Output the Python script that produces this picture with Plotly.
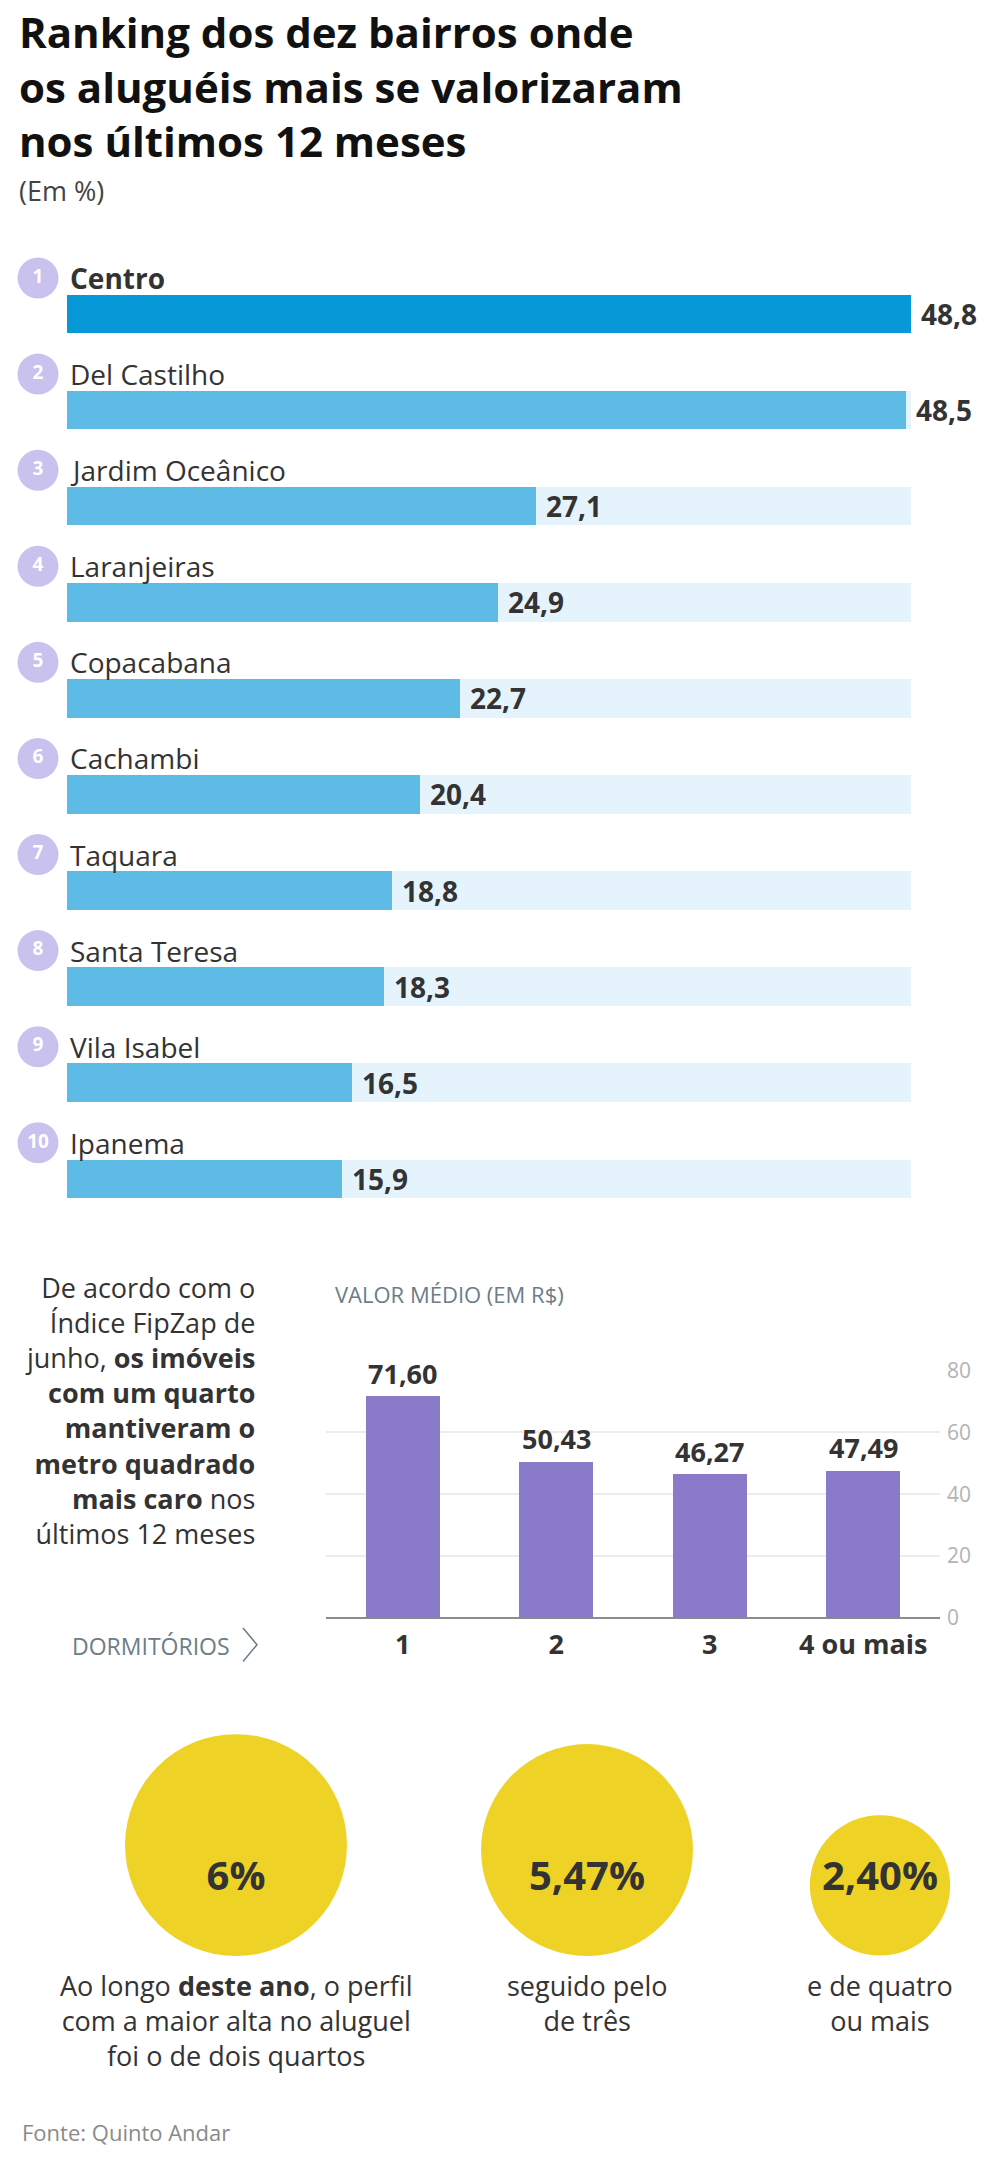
import math
import plotly.graph_objects as go

# ---------------- data ----------------
BAIRROS = ["Centro", "Del Castilho", "Jardim Oceânico", "Laranjeiras", "Copacabana",
           "Cachambi", "Taquara", "Santa Teresa", "Vila Isabel", "Ipanema"]
VALORIZACAO = [48.8, 48.5, 27.1, 24.9, 22.7, 20.4, 18.8, 18.3, 16.5, 15.9]
RANK = [str(i + 1) for i in range(len(BAIRROS))]

DORMITORIOS = ["1", "2", "3", "4 ou mais"]
VALOR_MEDIO = [71.60, 50.43, 46.27, 47.49]
Y_TICKS = [0, 20, 40, 60, 80]

ALTA_VALORES = [6.0, 5.47, 2.40]
ALTA_LABELS = ["6%", "5,47%", "2,40%"]
ALTA_CAPTIONS = [
    ["Ao longo <b>deste ano</b>, o perfil", "com a maior alta no aluguel", "foi o de dois quartos"],
    ["seguido pelo", "de três"],
    ["e de quatro", "ou mais"],
]

TITLE_LINES = ["Ranking dos dez bairros onde", "os aluguéis mais se valorizaram",
               "nos últimos 12 meses"]
LEFT_TEXT = ["De acordo com o", "Índice FipZap de", "junho, <b>os imóveis</b>",
             "<b>com um quarto</b>", "<b>mantiveram o</b>", "<b>metro quadrado</b>",
             "<b>mais caro</b> nos", "últimos 12 meses"]

# ---------------- style / layout ----------------
W, H = 1000, 2168
FONT = "Open Sans"
DARK = "#333333"
GRAYBLUE = "#6b7d89"


def px(x):
    return x / W


def py(y):
    return 1 - y / H


def br(v, nd=1):
    return f"{v:.{nd}f}".replace(".", ",")


fig = go.Figure()
annotations = []

# ---- title ----
annotations.append(dict(text="<b>" + "<br>".join(TITLE_LINES) + "</b>", x=px(17), y=py(72),
                        xref="paper", yref="paper", xanchor="left", yanchor="middle",
                        align="left", showarrow=False,
                        font=dict(family=FONT, size=42, color="#111111")))
annotations.append(dict(text="(Em %)", x=px(17), y=py(178), xref="paper", yref="paper",
                        xanchor="left", yanchor="middle", showarrow=False,
                        font=dict(family=FONT, size=27, color="#444444")))

# ---- ranking bars ----
n = len(BAIRROS)
idx = list(range(n))
vmax = max(VALORIZACAO)
row_top, row_bottom = 254.3, 1227.7
bar_colors = ["#0798d8" if i == 0 else "#5dbbe6" for i in idx]

fig.add_trace(go.Bar(x=[vmax] * n, y=idx, orientation="h", width=0.40,
                     marker=dict(color="#e5f4fc", line=dict(width=0)),
                     xaxis="x", yaxis="y", hoverinfo="skip", showlegend=False))
fig.add_trace(go.Bar(x=VALORIZACAO, y=idx, orientation="h", width=0.40,
                     marker=dict(color=bar_colors, line=dict(width=0)),
                     xaxis="x", yaxis="y", showlegend=False))

LABEL_SHIFT = 0.375  # rank circles / names sit above each bar (in row units)
fig.add_trace(go.Scatter(x=[0.5] * n, y=idx, mode="markers+text", text=RANK,
                         textposition="middle center",
                         textfont=dict(family=FONT, size=19, color="white", weight="bold"),
                         marker=dict(size=41, color="#c9c1ee", opacity=1, line=dict(width=0)),
                         xaxis="x4", yaxis="y4", showlegend=False, cliponaxis=False,
                         hoverinfo="skip"))

for i, (name, v) in enumerate(zip(BAIRROS, VALORIZACAO)):
    label = f"<b>{name}</b>" if i == 0 else name
    annotations.append(dict(text=label, x=0, y=i, xref="x", yref="y4", xanchor="left",
                            yanchor="middle", xshift=1, showarrow=False,
                            font=dict(family=FONT, size=28, color=DARK)))
    annotations.append(dict(text=f"<b>{br(v)}</b>", x=v, y=i, xref="x", yref="y",
                            xanchor="left", yanchor="middle", xshift=8, showarrow=False,
                            font=dict(family=FONT, size=28, color=DARK)))

# ---- average value bar chart ----
fig.add_trace(go.Bar(x=DORMITORIOS, y=VALOR_MEDIO, width=0.48,
                     marker=dict(color="#8a7aca", line=dict(width=0)),
                     xaxis="x2", yaxis="y2", showlegend=False))
for k, v in enumerate(VALOR_MEDIO):
    annotations.append(dict(text=f"<b>{br(v, 2)}</b>", x=k, y=v, xref="x2", yref="y2",
                            xanchor="center", yanchor="middle", yshift=23, showarrow=False,
                            font=dict(family=FONT, size=27, color=DARK)))

annotations.append(dict(text="<br>".join(LEFT_TEXT), x=px(257), y=py(1296 + 33.7 * 3.5),
                        xref="paper", yref="paper", xanchor="right", yanchor="middle",
                        align="right", showarrow=False,
                        font=dict(family=FONT, size=27, color=DARK)))
annotations.append(dict(text="VALOR MÉDIO (EM R$)", x=px(333), y=py(1296), xref="paper",
                        yref="paper", xanchor="left", yanchor="middle", showarrow=False,
                        font=dict(family=FONT, size=22, color=GRAYBLUE)))
annotations.append(dict(text="DORMITÓRIOS", x=px(232), y=py(1652), xref="paper",
                        yref="paper", xanchor="right", yanchor="middle", showarrow=False,
                        font=dict(family=FONT, size=23, color=GRAYBLUE)))

shapes = [dict(type="path", xref="paper", yref="paper", layer="above",
               path=f"M {px(243)} {py(1634)} L {px(257)} {py(1651)} L {px(243)} {py(1668)}",
               line=dict(color=GRAYBLUE, width=1.5))]

# ---- bubbles ----
COL_X = [236, 587, 880]
BUBBLE_BASE = 1965
D_PER_SQRT = 90.6
diam = [D_PER_SQRT * math.sqrt(v) for v in ALTA_VALORES]
fig.add_trace(go.Scatter(x=COL_X, y=[BUBBLE_BASE - d / 2 for d in diam], mode="markers",
                         marker=dict(size=diam, color="#eed225", opacity=1, line=dict(width=0)),
                         xaxis="x3", yaxis="y3", showlegend=False, hoverinfo="skip"))
fig.add_trace(go.Scatter(x=COL_X, y=[1889] * len(COL_X), mode="text", text=ALTA_LABELS,
                         textposition="middle center",
                         textfont=dict(family=FONT, size=40, color=DARK, weight="bold"),
                         xaxis="x3", yaxis="y3", showlegend=False, hoverinfo="skip"))
for cx, lines in zip(COL_X, ALTA_CAPTIONS):
    annotations.append(dict(text="<br>".join(lines), x=cx, y=1976, xref="x3", yref="y3",
                            xanchor="center", yanchor="top", align="center", showarrow=False,
                            font=dict(family=FONT, size=27, color=DARK)))

annotations.append(dict(text="Fonte: Quinto Andar", x=px(20), y=py(2145), xref="paper",
                        yref="paper", xanchor="left", yanchor="middle", showarrow=False,
                        font=dict(family=FONT, size=22, color="#8a8a8a")))

hidden = dict(visible=False, showgrid=False, zeroline=False, fixedrange=True)

fig.update_layout(
    width=W, height=H, margin=dict(l=0, r=0, t=0, b=0),
    paper_bgcolor="white", plot_bgcolor="rgba(0,0,0,0)",
    barmode="overlay", bargap=0, showlegend=False,
    font=dict(family=FONT, color=DARK),
    xaxis=dict(hidden, domain=[px(67), px(911)], range=[0, vmax], anchor="y"),
    yaxis=dict(hidden, domain=[py(row_bottom), py(row_top)], range=[n - 0.5, -0.5], anchor="x"),
    xaxis4=dict(hidden, domain=[px(18), px(58)], range=[0, 1], anchor="y4"),
    yaxis4=dict(hidden, domain=[py(row_bottom), py(row_top)],
                range=[n - 0.5 + LABEL_SHIFT, -0.5 + LABEL_SHIFT], anchor="x4"),
    xaxis2=dict(domain=[px(326), px(940)], anchor="y2", type="category",
                showgrid=False, zeroline=False, showline=False, ticks="",
                tickfont=dict(family=FONT, size=27, color=DARK, weight="bold"),
                ticklabelstandoff=8, fixedrange=True),
    yaxis2=dict(domain=[py(1624), py(1373)], anchor="x2", range=[0, 80],
                tickvals=Y_TICKS, ticktext=[str(t) for t in Y_TICKS],
                side="right", showgrid=True, gridcolor="#ececec", gridwidth=1.5,
                zeroline=True, zerolinecolor="#8c8c8c", zerolinewidth=2,
                showline=False, ticks="", ticklabelstandoff=6,
                tickfont=dict(family=FONT, size=21, color="#b3b3b3"), fixedrange=True),
    xaxis3=dict(hidden, domain=[0, 1], range=[0, W], anchor="y3"),
    yaxis3=dict(hidden, domain=[0, 1], range=[H, 0], anchor="x3"),
    annotations=annotations,
    shapes=shapes,
)

PAGE_FIX = ("document.documentElement.style.margin='0';"
            "document.body.style.margin='0';document.body.style.padding='0';"
            "var gd=document.getElementById('{plot_id}');"
            "gd.style.position='absolute';gd.style.left='0px';gd.style.top='0px';")

fig.write_html("out.html", config={"displayModeBar": False}, post_script=PAGE_FIX)
